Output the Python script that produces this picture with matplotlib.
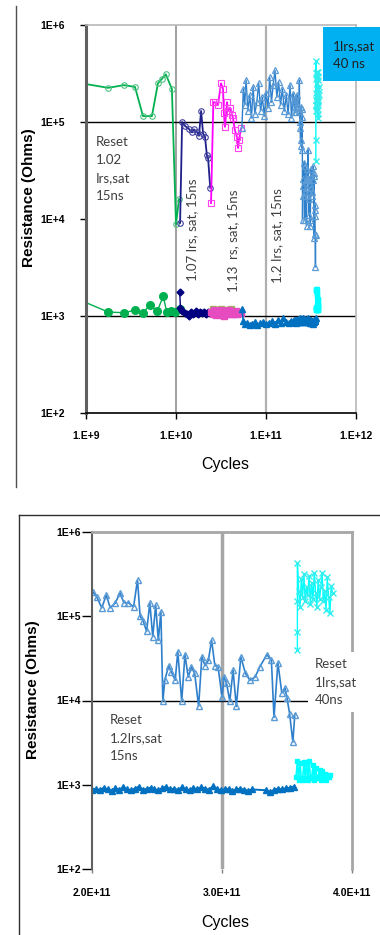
import numpy as np
import matplotlib
matplotlib.use("Agg")
import matplotlib.pyplot as plt
from matplotlib.lines import Line2D
from matplotlib.patches import Rectangle

# ---- data: top panel (log-log) ----
green_hrs_x = [8.0e8, 1.76e9, 2.64e9, 3.5e9, 4.3e9, 5.4e9, 6.3e9, 7.0e9, 7.7e9, 9.0e9, 1.0e10, 1.08e10]
green_hrs_y = [2.55e5, 2.25e5, 2.4e5, 2.3e5, 1.15e5, 1.15e5, 2.5e5, 2.8e5, 3.1e5, 2.2e5, 8.8e3, 1.6e4]
green_lrs_x = [8.0e8, 1.76e9, 2.64e9, 3.5e9, 4.3e9, 5.1e9, 6.2e9, 7.2e9, 7.9e9, 8.8e9, 9.7e9, 1.1e10]
green_lrs_y = [1.5e3, 1.1e3, 1.08e3, 1.15e3, 1.07e3, 1.3e3, 1.12e3, 1.6e3, 1.1e3, 1.12e3, 1.1e3, 1.18e3]

navy_hrs_x = [1.11e10, 1.17e10, 1.26e10, 1.39e10, 1.51e10, 1.58e10, 1.71e10, 1.8e10, 1.9e10, 2.0e10, 2.1e10, 2.2e10, 2.27e10, 2.4e10]
navy_hrs_y = [9.1e3, 1.0e5, 9.1e4, 8.5e4, 7.8e4, 8.4e4, 7.9e4, 7.2e4, 1.3e5, 7.6e4, 7.0e4, 4.6e4, 4.3e4, 2.1e4]
navy_lrs_x = [1.10e10, 1.12e10, 1.18e10, 1.25e10, 1.32e10, 1.40e10, 1.48e10, 1.56e10, 1.65e10, 1.75e10, 1.85e10, 1.95e10, 2.05e10, 2.15e10, 2.25e10, 2.38e10]
navy_lrs_y = [1780, 1200, 1120, 1080, 1050, 1000, 1100, 1060, 1120, 1040, 1090, 1080, 1100, 1060, 1090, 1100]

mag_hrs_x = [2.45e10, 2.6e10, 2.7e10, 2.93e10, 3.16e10, 3.33e10, 3.4e10, 3.5e10, 3.69e10, 3.78e10, 3.98e10,
             4.2e10, 4.3e10, 4.5e10, 4.76e10, 4.9e10, 5.0e10, 5.3e10]
mag_hrs_y = [1.46e4, 1.6e5, 1.6e5, 1.5e5, 2.5e5, 2.2e5, 1.24e5, 8.9e4, 1.6e5, 1.3e5, 1.4e5,
             1.18e5, 1.1e5, 8.3e4, 7.0e4, 5.4e4, 6.5e4, 8.6e4]
mag_lrs_x = [2.45e10, 2.55e10, 2.65e10, 2.75e10, 2.85e10, 2.95e10, 3.05e10, 3.15e10, 3.25e10, 3.35e10, 3.45e10,
             3.6e10, 3.75e10, 3.9e10, 4.05e10, 4.2e10, 4.4e10, 4.6e10, 4.8e10, 5.05e10, 5.3e10]
mag_lrs_y = [1100, 1050, 1150, 1020, 1120, 1080, 1100, 1160, 1030, 1130, 1000,
             1120, 1060, 1150, 1040, 1100, 1060, 1120, 1050, 1100, 1070]
olive_lrs_x = [2.6e10, 2.9e10, 3.2e10, 3.5e10, 3.8e10, 4.1e10]
olive_lrs_y = [1170, 1140, 1180, 1160, 1130, 1170]

# blue 1.2 Irs,sat series (shared by both panels)
blue_hrs_x = [5.4e10, 5.6e10, 5.8e10, 6.0e10, 6.3e10, 6.6e10, 6.9e10, 7.2e10, 7.5e10, 7.9e10,
              8.3e10, 8.7e10, 9.1e10, 9.6e10, 1.0e11, 1.05e11, 1.1e11, 1.15e11, 1.2e11, 1.26e11,
              1.32e11, 1.38e11, 1.45e11, 1.52e11, 1.6e11, 1.68e11, 1.76e11, 1.85e11, 1.92e11, 1.98e11,
              2.005e11, 2.036e11, 2.075e11, 2.11e11, 2.14e11, 2.18e11, 2.215e11, 2.245e11, 2.28e11, 2.32e11,
              2.35e11, 2.37e11, 2.395e11, 2.42e11, 2.445e11, 2.467e11, 2.49e11, 2.51e11, 2.53e11, 2.545e11,
              2.56e11, 2.59e11, 2.61e11, 2.64e11, 2.66e11, 2.69e11, 2.715e11, 2.74e11, 2.765e11, 2.79e11,
              2.82e11, 2.845e11, 2.87e11, 2.895e11, 2.92e11, 2.945e11, 2.97e11, 3.0e11, 3.015e11, 3.035e11,
              3.06e11, 3.085e11, 3.11e11, 3.145e11, 3.18e11, 3.215e11, 3.255e11, 3.29e11, 3.345e11, 3.38e11,
              3.4e11, 3.43e11, 3.46e11, 3.485e11, 3.5e11, 3.52e11, 3.545e11, 3.56e11]
blue_hrs_y = [0.87e5, 2.2e5, 1.5e5, 2.7e5, 1.3e5, 1.9e5, 1.1e5, 2.3e5, 1.2e5, 1.6e5,
              2.5e5, 1.3e5, 1.8e5, 1.15e5, 2.0e5, 1.4e5, 2.9e5, 1.6e5, 2.4e5, 3.4e5,
              1.8e5, 2.6e5, 1.5e5, 2.2e5, 1.3e5, 1.9e5, 1.2e5, 2.4e5, 1.1e5, 1.6e5,
              1.95e5, 1.7e5, 1.26e5, 1.78e5, 1.26e5, 1.44e5, 1.9e5, 1.45e5, 1.44e5, 1.3e5,
              2.7e5, 1.0e5, 8.7e4, 6.6e4, 1.44e5, 5.7e4, 1.35e5, 5.2e4, 1.13e5, 9.8e3,
              1.74e4, 2.6e4, 2.2e4, 1.74e4, 3.8e4, 9.8e3, 3.5e4, 1.9e4, 2.5e4, 2.1e4,
              8.5e3, 3.3e4, 2.6e4, 3.0e4, 5.2e4, 2.6e4, 2.5e4, 1.1e4, 1.9e4, 1.6e4,
              9.8e3, 2.3e4, 8.5e3, 3.3e4, 2.1e4, 1.74e4, 1.9e4, 2.5e4, 3.5e4, 3.0e4,
              6.3e3, 2.8e4, 1.23e4, 1.4e4, 1.07e4, 7.0e3, 3.2e3, 6.8e3]
blue_lrs_x = [5.4e10, 5.6e10, 5.9e10, 6.2e10, 6.6e10, 7.0e10, 7.5e10, 8.0e10, 8.6e10, 9.2e10,
              1.0e11, 1.08e11, 1.16e11, 1.25e11, 1.35e11, 1.45e11, 1.56e11, 1.68e11, 1.8e11, 1.92e11,
              2.00e11, 2.03e11, 2.06e11, 2.09e11, 2.12e11, 2.15e11, 2.18e11, 2.21e11, 2.24e11, 2.27e11,
              2.30e11, 2.33e11, 2.36e11, 2.39e11, 2.42e11, 2.45e11, 2.48e11, 2.51e11, 2.54e11, 2.57e11,
              2.60e11, 2.63e11, 2.66e11, 2.69e11, 2.72e11, 2.75e11, 2.78e11, 2.81e11, 2.84e11, 2.87e11,
              2.90e11, 2.93e11, 2.96e11, 2.99e11, 3.02e11, 3.05e11, 3.08e11, 3.11e11, 3.14e11, 3.17e11,
              3.20e11, 3.23e11, 3.34e11, 3.37e11, 3.40e11, 3.43e11, 3.46e11, 3.49e11, 3.52e11, 3.55e11]
blue_lrs_y = [1170, 880, 820, 850, 800, 830, 870, 810, 840, 860,
              820, 850, 880, 830, 900, 850, 960, 870, 840, 880,
              870, 900, 860, 920, 880, 850, 910, 870, 940, 880,
              860, 900, 950, 870, 890, 920, 880, 860, 910, 950,
              880, 900, 870, 930, 890, 860, 910, 880, 940, 900,
              870, 960, 890, 860, 880, 900, 850, 880, 900, 870,
              850, 880, 860, 820, 870, 900, 880, 910, 920, 950]

# cyan 1 Irs,sat 40ns series
cyan_hrs_x = [3.58e11, 3.58e11, 3.58e11, 3.58e11, 3.59e11, 3.60e11, 3.61e11, 3.62e11, 3.63e11, 3.64e11,
              3.65e11, 3.66e11, 3.67e11, 3.68e11, 3.69e11, 3.70e11, 3.71e11, 3.72e11, 3.73e11, 3.74e11,
              3.75e11, 3.76e11, 3.77e11, 3.78e11, 3.79e11, 3.80e11, 3.81e11, 3.82e11, 3.83e11, 3.84e11, 3.85e11]
cyan_hrs_y = [0.4e5, 0.65e5, 1.5e5, 4.3e5, 2.0e5, 1.3e5, 2.8e5, 1.7e5, 3.2e5, 1.5e5,
              2.2e5, 1.8e5, 3.0e5, 1.4e5, 2.5e5, 1.6e5, 3.3e5, 1.9e5, 1.3e5, 2.7e5,
              1.6e5, 2.2e5, 3.3e5, 1.5e5, 2.0e5, 1.2e5, 2.9e5, 1.7e5, 1.1e5, 2.3e5, 1.9e5]
cyan_lrs_x = [3.57e11, 3.58e11, 3.59e11, 3.60e11, 3.61e11, 3.62e11, 3.63e11, 3.64e11, 3.65e11, 3.66e11,
              3.67e11, 3.68e11, 3.69e11, 3.70e11, 3.71e11, 3.72e11, 3.73e11, 3.74e11, 3.75e11, 3.76e11,
              3.77e11, 3.78e11, 3.79e11, 3.80e11, 3.81e11, 3.82e11, 3.83e11]
cyan_lrs_y = [1250, 1900, 1150, 1800, 1200, 1150, 1850, 1200, 1750, 1150,
              1900, 1250, 1200, 1700, 1150, 1600, 1200, 1250, 1500, 1150,
              1450, 1200, 1350, 1150, 1300, 1250, 1300]

top_xticks = [1e9, 1e10, 1e11, 1e12]
top_xlabels = ["1.E+9", "1.E+10", "1.E+11", "1.E+12"]
yticks = [1e2, 1e3, 1e4, 1e5, 1e6]
ylabels = ["1E+2", "1E+3", "1E+4", "1E+5", "1E+6"]
bot_xticks = [2.0e11, 3.0e11, 4.0e11]
bot_xlabels = ["2.0E+11", "3.0E+11", "4.0E+11"]

W, H = 380, 935
fig = plt.figure(figsize=(3.8, 9.35), dpi=100)
fig.patch.set_facecolor("white")

def fx(px):
    return px / W

def fy(py):
    return 1 - py / H

ann_font = ["Lato", "DejaVu Sans"]
ann_col = "#404040"


def draw_series(ax):
    # green
    ax.plot(green_hrs_x, green_hrs_y, color="#00B050", lw=1.3, marker="o", ms=4, mfc="none", mec="#50C080", mew=0.8)
    ax.plot(green_lrs_x, green_lrs_y, color="#00B050", lw=1.0, marker="o", ms=5.5, mfc="#00B050", mec="#00B050")
    # navy
    ax.plot(navy_hrs_x, navy_hrs_y, color="#1F1F8A", lw=1.3, marker="o", ms=4, mfc="none", mec="#4040A0", mew=0.8)
    ax.plot(navy_lrs_x, navy_lrs_y, color="#000080", lw=1.0, marker="D", ms=3.5, mfc="#000080", mec="#000080")
    # magenta + olive
    ax.plot(mag_hrs_x, mag_hrs_y, color="#FF00FF", lw=1.3, marker="s", ms=4.5, mfc="none", mec="#FF44EE", mew=0.8)
    ax.plot(olive_lrs_x, olive_lrs_y, color="#9BBB59", lw=0.8, marker="s", ms=4.5, mfc="#9BBB59", mec="#9BBB59")
    ax.plot(mag_lrs_x, mag_lrs_y, color="#E040C0", lw=1.0, marker="s", ms=4.5, mfc="#E64CC0", mec="#E64CC0")


tick_font = {"family": "Liberation Sans", "weight": "bold", "size": 7.5}

# ================= top panel =================
ax1 = fig.add_axes([fx(86), fy(413), fx(356) - fx(86), fy(25) - fy(413)])
ax1.set_xscale("log")
ax1.set_yscale("log")
draw_series(ax1)
ax1.plot(blue_hrs_x, blue_hrs_y, color="#2F80CC", lw=1.0, marker="^", ms=4.5, mfc="none", mec="#5B9BD5", mew=0.9)
ax1.plot(blue_lrs_x, blue_lrs_y, color="#0070C0", lw=1.2, marker="^", ms=5, mfc="#0070C0", mec="#0070C0")
ax1.plot(cyan_hrs_x, cyan_hrs_y, color="#00FFFF", lw=1.0, marker="x", ms=4, mec="#33EEEE")
ax1.plot(cyan_lrs_x, cyan_lrs_y, color="#00FFFF", lw=1.2, marker="s", ms=3, mfc="#00FFFF", mec="#00FFFF")

ax1.set_xlim(1e9, 1e12)
ax1.set_ylim(1e2, 1e6)
ax1.axhline(1e5, color="black", lw=1.0, zorder=1)
ax1.axhline(1e3, color="black", lw=1.0, zorder=1)
ax1.axvline(1e10, color="#909090", lw=1.2, zorder=0)
ax1.axvline(1e11, color="#B0B0B0", lw=1.6, zorder=0)
ax1.set_xticks(top_xticks)
ax1.set_xticklabels(top_xlabels)
ax1.set_yticks(yticks)
ax1.set_yticklabels(ylabels)
ax1.minorticks_off()
ax1.tick_params(axis="x", length=4, width=1, pad=9, color="black")
ax1.tick_params(axis="y", length=4, width=1, pad=11, color="black")
for lab in ax1.get_xticklabels() + ax1.get_yticklabels():
    lab.set_fontproperties(tick_font)
ax1.spines["left"].set_color("#606060")
ax1.spines["left"].set_linewidth(2.2)
ax1.spines["bottom"].set_color("black")
ax1.spines["bottom"].set_linewidth(1.2)
for s in ["top", "right"]:
    ax1.spines[s].set_color("#B8B8B8")
    ax1.spines[s].set_linewidth(1.2)

fig.text(fx(29), fy(198), "Resistance (Ohms)", rotation=90, ha="center", va="center",
         family="Liberation Sans", weight="bold", size=11)
fig.text(fx(225), fy(465), "Cycles", ha="center", va="center", family="Liberation Sans", size=11.5)

fig.text(fx(96), fy(169), "Reset\n1.02\nIrs,sat\n15ns", ha="left", va="center", family=ann_font,
         size=9.5, color=ann_col, linespacing=1.6)
fig.text(fx(192), fy(230), "1.07 Irs, sat, 15ns", rotation=90, ha="center", va="center",
         family=ann_font, size=9.5, color=ann_col)
fig.text(fx(233), fy(241), "1.13  rs, sat, 15ns", rotation=90, ha="center", va="center",
         family=ann_font, size=9.5, color=ann_col)
fig.text(fx(277), fy(236), "1.2 Irs, sat, 15ns", rotation=90, ha="center", va="center",
         family=ann_font, size=9.5, color=ann_col)

fig.patches.append(Rectangle((fx(323), fy(81)), fx(380) - fx(323), fy(27) - fy(81),
                             transform=fig.transFigure, facecolor="#00B0F0", edgecolor="none", zorder=5))
fig.text(fx(333), fy(55), "1Irs,sat\n40 ns", ha="left", va="center", family=ann_font, size=9.5,
         color="#202020", linespacing=1.5, zorder=6)

# frame line of top picture
fig.add_artist(Line2D([fx(16), fx(16)], [fy(6), fy(487)], transform=fig.transFigure, color="#505050", lw=1))

# ================= bottom panel =================
ax2 = fig.add_axes([fx(92), fy(869), fx(352) - fx(92), fy(532) - fy(869)])
ax2.set_yscale("log")
ax2.plot(blue_hrs_x, blue_hrs_y, color="#2F80CC", lw=1.2, marker="^", ms=5, mfc="none", mec="#5B9BD5", mew=1.0)
ax2.plot(blue_lrs_x, blue_lrs_y, color="#0070C0", lw=1.4, marker="^", ms=5, mfc="#0070C0", mec="#0070C0")
ax2.plot(cyan_hrs_x, cyan_hrs_y, color="#00FFFF", lw=1.0, marker="x", ms=4.5, mec="#33EEEE")
ax2.plot(cyan_lrs_x, cyan_lrs_y, color="#00FFFF", lw=1.2, marker="s", ms=3, mfc="#00FFFF", mec="#00FFFF")
ax2.set_xlim(2.0e11, 4.0e11)
ax2.set_ylim(1e2, 1e6)
ax2.axhline(1e4, color="black", lw=1.0, zorder=1)
ax2.axvline(3.0e11, color="#A6A6A6", lw=2.5, zorder=0)
ax2.set_xticks(bot_xticks)
ax2.set_xticklabels(bot_xlabels)
ax2.set_yticks(yticks)
ax2.set_yticklabels(ylabels)
ax2.minorticks_off()
ax2.tick_params(axis="x", length=3, width=1, pad=11, color="#808080")
ax2.tick_params(axis="y", length=7, width=1, pad=1, color="black")
for lab in ax2.get_xticklabels() + ax2.get_yticklabels():
    lab.set_fontproperties(tick_font)
ax2.spines["left"].set_color("#606060")
ax2.spines["left"].set_linewidth(1.5)
ax2.spines["bottom"].set_visible(False)
for s in ["top", "right"]:
    ax2.spines[s].set_color("#A6A6A6")
    ax2.spines[s].set_linewidth(2)

fig.text(fx(33), fy(690), "Resistance (Ohms)", rotation=90, ha="center", va="center",
         family="Liberation Sans", weight="bold", size=11)
fig.text(fx(225), fy(923), "Cycles", ha="center", va="center", family="Liberation Sans", size=11.5)

fig.text(fx(110), fy(738), "Reset\n1.2Irs,sat\n15ns", ha="left", va="center", family=ann_font,
         size=9.5, color=ann_col, linespacing=1.55)
fig.text(fx(315), fy(682), "Reset\n1Irs,sat\n40ns", ha="left", va="center", family=ann_font,
         size=9.5, color=ann_col, linespacing=1.55, zorder=10,
         bbox=dict(boxstyle="square,pad=0.5", facecolor="white", edgecolor="none"))

# frame of bottom picture
fig.add_artist(Line2D([fx(19), fx(380)], [fy(515), fy(515)], transform=fig.transFigure, color="#303030", lw=1))
fig.add_artist(Line2D([fx(19), fx(19)], [fy(515), fy(935)], transform=fig.transFigure, color="#303030", lw=1))

fig.savefig("out.png", dpi=100)
